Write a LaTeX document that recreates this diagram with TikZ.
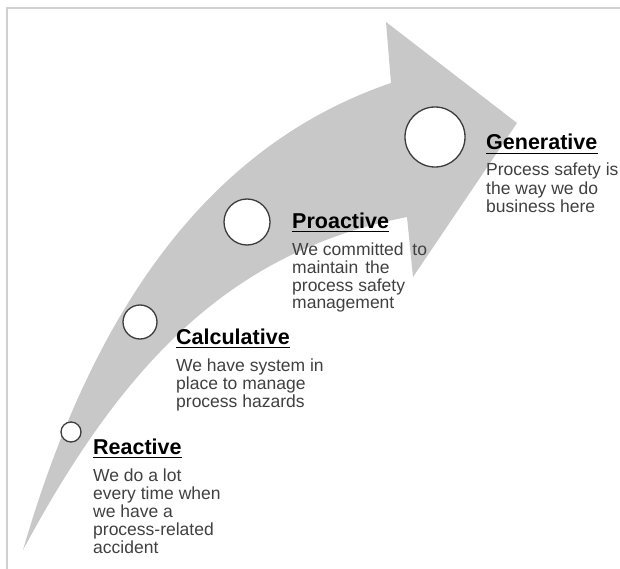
\documentclass[tikz,border=0pt]{standalone}
\usepackage{fontspec}
\setmainfont{Liberation Sans}
\usetikzlibrary{calc}
\definecolor{framegray}{HTML}{D0D0D0}
\definecolor{arrowgray}{HTML}{C8C8C8}
\definecolor{ringgray}{HTML}{3C3C3C}
\definecolor{bodygray}{HTML}{404040}
% stacked lines whose baseline is that of the first line
\newcommand{\stagelines}[1]{\begin{tabular}[t]{@{}l@{}}#1\end{tabular}}
\begin{document}
\begin{tikzpicture}[x=1pt,y=-1pt,
  stage/.style={circle, draw=ringgray, line width=1.3pt, fill=white, inner sep=0pt, minimum size=#1},
  headline/.style={anchor=base west, inner sep=0pt, font=\fontsize{21.5}{24}\selectfont\bfseries, text=black},
  blurb/.style={anchor=base west, inner sep=0pt, font=\fontsize{17.5}{17.8}\selectfont, text=bodygray},
  rule/.style={line width=1.6pt, black}]
\useasboundingbox (0,0) rectangle (620,569);

% frame
\coordinate (fbl) at (7,569);
\coordinate (ftl) at (7,8);
\coordinate (ftr) at (620,8);
\draw[framegray, line width=2pt] (fbl) -- (ftl) -- (ftr);

% curved maturity arrow
\fill[arrowgray] (23,550) .. controls (95.5,300) and (215,143) .. (391,83)
  -- (386,22) -- (517,123) -- (413,277) -- (407,217)
  .. controls (240,250) and (130,350) .. (23,550) -- cycle;

% stage markers
\node[stage=20pt] (c1) at (71,432) {};
\node[stage=34pt] (c2) at (140,322) {};
\node[stage=46pt] (c3) at (247,222) {};
\node[stage=60pt] (c4) at (435,137) {};

% stage labels
\node[headline] (t1) at (93,454) {Reactive};
\node[blurb] (b1) at (93,481) {\stagelines{We do a lot\\every time when\\we have a\\process-related\\accident}};
\node[headline] (t2) at (176,344) {Calculative};
\node[blurb] (b2) at (176,371) {\stagelines{We have system in\\place to manage\\process hazards}};
\node[headline] (t3) at (292,228) {Proactive};
\node[blurb] (b3) at (292,255) {\stagelines{We committed\hspace{0.5em}to\\maintain\hspace{0.4em}the\\process safety\\management}};
\node[headline] (t4) at (486,150) {Generative};
\node[blurb] (b4) at (486,176) {\stagelines{Process safety is\\the way we do\\business here}};

% underlines
\foreach \t in {t1,t2,t3,t4}
  \draw[rule] ([yshift=-3.5pt]\t.base west) -- ([yshift=-3.5pt]\t.base east);
\end{tikzpicture}
\end{document}
